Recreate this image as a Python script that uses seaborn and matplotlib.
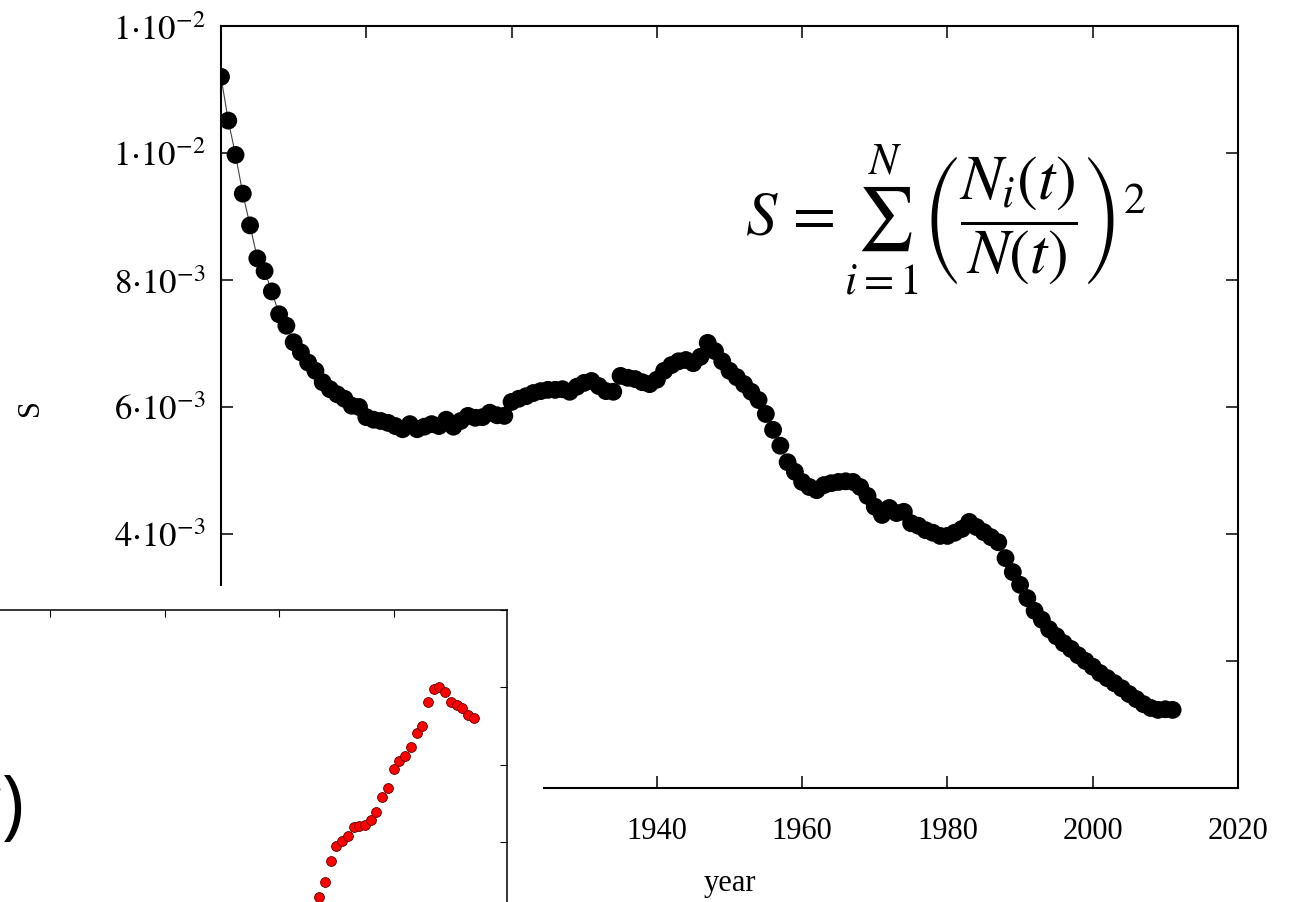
import numpy as np
import pandas as pd
import matplotlib
matplotlib.use("Agg")
import matplotlib.pyplot as plt
from matplotlib.patches import Rectangle
import seaborn as sns

# ---- data -------------------------------------------------------------
years = list(range(1880, 2012))
# concentration index S, in units of 1e-3
s_values = [
    11.20, 10.51, 9.97, 9.36, 8.86, 8.34, 8.14, 7.82, 7.46, 7.28,
    7.02, 6.86, 6.70, 6.57, 6.39, 6.28, 6.20, 6.13, 6.02, 6.00,
    5.84, 5.80, 5.78, 5.75, 5.70, 5.65, 5.73, 5.65, 5.69, 5.73,
    5.70, 5.80, 5.69, 5.78, 5.86, 5.83, 5.84, 5.91, 5.87, 5.86,
    6.08, 6.13, 6.17, 6.22, 6.25, 6.27, 6.27, 6.28, 6.24, 6.32,
    6.38, 6.41, 6.33, 6.25, 6.24, 6.49, 6.46, 6.44, 6.39, 6.36,
    6.43, 6.57, 6.66, 6.72, 6.74, 6.69, 6.79, 7.01, 6.88, 6.72,
    6.57, 6.47, 6.36, 6.24, 6.11, 5.89, 5.64, 5.39, 5.13, 4.98,
    4.82, 4.74, 4.69, 4.77, 4.80, 4.82, 4.83, 4.82, 4.74, 4.60,
    4.43, 4.30, 4.41, 4.33, 4.35, 4.17, 4.13, 4.06, 4.02, 3.97,
    3.97, 4.02, 4.08, 4.19, 4.11, 4.03, 3.95, 3.87, 3.62, 3.40,
    3.20, 2.99, 2.79, 2.65, 2.50, 2.39, 2.28, 2.19, 2.09, 2.00,
    1.91, 1.81, 1.73, 1.65, 1.57, 1.48, 1.40, 1.32, 1.26, 1.23,
    1.24, 1.23,
]

ytick_values = [0.0, 0.002, 0.004, 0.006, 0.008, 0.010, 0.012]
ytick_labels = [r"$0$", r"$2{\cdot}10^{-3}$", r"$4{\cdot}10^{-3}$",
                r"$6{\cdot}10^{-3}$", r"$8{\cdot}10^{-3}$",
                r"$1{\cdot}10^{-2}$", r"$1{\cdot}10^{-2}$"]
xtick_values = [1880, 1900, 1920, 1940, 1960, 1980, 2000, 2020]

# inset series
inset_years = list(range(1987, 2015))
inset_values = [
    0.330, 0.349, 0.376, 0.395, 0.402, 0.408, 0.420, 0.421, 0.423, 0.429,
    0.439, 0.459, 0.470, 0.495, 0.505, 0.512, 0.523, 0.541, 0.550, 0.581,
    0.598, 0.601, 0.594, 0.581, 0.577, 0.574, 0.565, 0.561,
]

main_df = pd.DataFrame({"year": years, "S": np.array(s_values) * 1e-3})
inset_df = pd.DataFrame({"year": inset_years, "v": inset_values})

# ---- style ------------------------------------------------------------
sns.set_theme(style="ticks")
plt.rcParams["font.family"] = ["Liberation Serif", "DejaVu Serif"]
plt.rcParams["mathtext.fontset"] = "stix"
for key in ("text.color", "axes.labelcolor", "xtick.color", "ytick.color",
            "axes.edgecolor"):
    plt.rcParams[key] = "black"

W, H = 1293, 903
fig = plt.figure(figsize=(W / 100, H / 100), dpi=100)
fig.patch.set_facecolor("white")


def px_box(left, top, right, bottom):
    return [left / W, 1 - bottom / H, (right - left) / W, (bottom - top) / H]


# ---- main panel -------------------------------------------------------
ax = fig.add_axes(px_box(221, 27, 1238, 789))
ax.set_facecolor("white")
sns.lineplot(data=main_df, x="year", y="S", ax=ax, color="#444444",
             linewidth=0.8, zorder=2)
sns.scatterplot(data=main_df, x="year", y="S", ax=ax, color="black",
                s=165, edgecolor="none", zorder=3)
ax.set_xlim(1880, 2020)
ax.set_ylim(0, 0.012)
ax.set_xticks(xtick_values)
ax.set_xticklabels([str(v) for v in xtick_values])
ax.set_yticks(ytick_values)
ax.set_yticklabels(ytick_labels)
ax.tick_params(direction="in", length=8.5, width=1.1, top=True, right=True,
               color="black", labelcolor="black")
ax.tick_params(axis="x", pad=20, labelsize=22)
ax.tick_params(axis="y", pad=11, labelsize=25)
for sp in ax.spines.values():
    sp.set_linewidth(1.5)
    sp.set_color("black")
ax.set_xlabel("")
ax.set_ylabel("")

fig.text(30 / W, 1 - 408 / H, "S", rotation=90, fontsize=22,
         ha="center", va="center")
fig.text(730 / W, 1 - 884 / H, "year", fontsize=22, ha="center", va="center")

fig.text(745 / W, 1 - 220 / H,
         r"$S\,=\sum_{i=1}^{N}\left(\dfrac{N_i(t)}{N(t)}\right)^2$",
         fontsize=45, ha="left", va="center")

# ---- inset panel ------------------------------------------------------
fig.patches.append(Rectangle((0, 0), 543 / W, (H - 587) / H,
                             transform=fig.transFigure, facecolor="white",
                             edgecolor="none", zorder=5))

ins = fig.add_axes(px_box(-179, 611, 507, 998.5), zorder=6)
ins.set_facecolor("white")
sns.scatterplot(data=inset_df, x="year", y="v", ax=ins, color="red",
                s=50, edgecolor="#5a0000", linewidth=0.6, zorder=3)
ins.set_xlim(1900, 2019.8)
ins.set_ylim(0.2, 0.7)
ins.set_xticks([1900, 1920, 1940, 1960, 1980, 2000])
ins.set_yticks([0.2, 0.3, 0.4, 0.5, 0.6, 0.7])
ins.tick_params(direction="in", length=5, width=0.8, top=True, right=True,
                labelleft=False, labelbottom=False, color="black")
for sp in ins.spines.values():
    sp.set_linewidth(1.1)
    sp.set_color("black")
ins.set_xlabel("")
ins.set_ylabel("")

fig.text(24 / W, 1 - 830 / H, "(r)", fontsize=55, ha="right",
         va="baseline", family=["Open Sans", "DejaVu Sans"], zorder=7,
         color="black")

fig.savefig("out.png", dpi=100, facecolor="white")
